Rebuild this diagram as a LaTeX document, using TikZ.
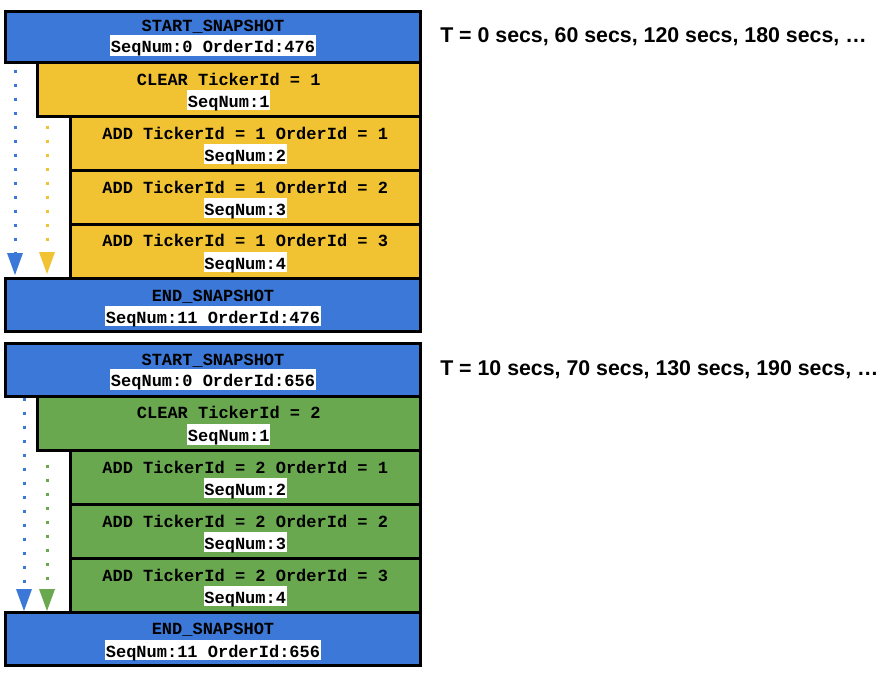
\documentclass[tikz,border=0pt]{standalone}
\usepackage{fontspec}
\usetikzlibrary{arrows.meta,fit}
\newfontfamily\boxfont{Liberation Mono}
\newfontfamily\sidefont{Liberation Sans}
\definecolor{snapblue}{HTML}{3C78D8}
\definecolor{tickyellow}{HTML}{F1C232}
\definecolor{tickgreen}{HTML}{6AA84F}
\tikzset{
  msgbox/.style={draw=black, line width=2.25pt, inner sep=0pt, rectangle},
  headline/.style={font=\boxfont\bfseries\fontsize{12.75pt}{14pt}\selectfont,
    inner xsep=0.4pt, inner ysep=0.2pt, text height=12.75pt, text depth=2pt},
  seqline/.style={headline, fill=white},
  sidetext/.style={font=\sidefont\bfseries\fontsize{16pt}{18pt}\selectfont,
    anchor=base west, inner sep=0pt},
  flow/.style={line width=2.25pt, dash pattern=on 2.25pt off 8.25pt,
    -{Triangle[width=12pt,length=16.5pt,line width=0pt]}}
}
\begin{document}
\begin{tikzpicture}[x=0.75pt,y=-0.75pt]
\useasboundingbox (0,0) rectangle (884,672);

% ---- first snapshot (ticker 1) ----
\coordinate (b1s) at (15,69.5);
\coordinate (b1e) at (15,275);
\coordinate (y1s) at (47,125.5);
\coordinate (y1e) at (47,274);
\draw[flow, snapblue] (b1s) -- (b1e);
\draw[flow, tickyellow] (y1s) -- (y1e);

\node[msgbox, fill=snapblue, fit={(5.5,11) (420.5,62)}] (s1) {};
\node[msgbox, fill=tickyellow, fit={(37,62) (420.5,116)}] (c1) {};
\node[msgbox, fill=tickyellow, fit={(70,116) (420.5,170)}] (a11) {};
\node[msgbox, fill=tickyellow, fit={(70,170) (420.5,224)}] (a12) {};
\node[msgbox, fill=tickyellow, fit={(70,224) (420.5,278)}] (a13) {};
\node[msgbox, fill=snapblue, fit={(5.5,278) (420.5,331)}] (e1) {};

\node[headline] (s1h) at (s1.center |- 0,24) {START\_SNAPSHOT};
\node[seqline]  (s1q) at (s1.center |- 0,45.5) {SeqNum:0 OrderId:476};
\node[headline] (c1h) at (c1.center |- 0,78) {CLEAR TickerId = 1};
\node[seqline]  (c1q) at (c1.center |- 0,100) {SeqNum:1};
\node[headline] (a11h) at (a11.center |- 0,132) {ADD TickerId = 1 OrderId = 1};
\node[seqline]  (a11q) at (a11.center |- 0,154) {SeqNum:2};
\node[headline] (a12h) at (a12.center |- 0,186) {ADD TickerId = 1 OrderId = 2};
\node[seqline]  (a12q) at (a12.center |- 0,208) {SeqNum:3};
\node[headline] (a13h) at (a13.center |- 0,239.5) {ADD TickerId = 1 OrderId = 3};
\node[seqline]  (a13q) at (a13.center |- 0,262) {SeqNum:4};
\node[headline] (e1h) at (e1.center |- 0,294.5) {END\_SNAPSHOT};
\node[seqline]  (e1q) at (e1.center |- 0,316) {SeqNum:11 OrderId:476};

\node[sidetext] (t1) at (440,42.5) {T = 0 secs, 60 secs, 120 secs, 180 secs, …};

% ---- second snapshot (ticker 2) ----
\coordinate (b2s) at (24,397.5);
\coordinate (b2e) at (24,611);
\coordinate (g2s) at (47,464.5);
\coordinate (g2e) at (47,611);
\draw[flow, snapblue] (b2s) -- (b2e);
\draw[flow, tickgreen] (g2s) -- (g2e);

\node[msgbox, fill=snapblue, fit={(5.5,343) (420.5,396)}] (s2) {};
\node[msgbox, fill=tickgreen, fit={(37,396) (420.5,450)}] (c2) {};
\node[msgbox, fill=tickgreen, fit={(70,450) (420.5,504)}] (a21) {};
\node[msgbox, fill=tickgreen, fit={(70,504) (420.5,558)}] (a22) {};
\node[msgbox, fill=tickgreen, fit={(70,558) (420.5,612)}] (a23) {};
\node[msgbox, fill=snapblue, fit={(5.5,612) (420.5,665.5)}] (e2) {};

\node[headline] (s2h) at (s2.center |- 0,358) {START\_SNAPSHOT};
\node[seqline]  (s2q) at (s2.center |- 0,379.5) {SeqNum:0 OrderId:656};
\node[headline] (c2h) at (c2.center |- 0,411.5) {CLEAR TickerId = 2};
\node[seqline]  (c2q) at (c2.center |- 0,434.5) {SeqNum:1};
\node[headline] (a21h) at (a21.center |- 0,466) {ADD TickerId = 2 OrderId = 1};
\node[seqline]  (a21q) at (a21.center |- 0,488) {SeqNum:2};
\node[headline] (a22h) at (a22.center |- 0,520) {ADD TickerId = 2 OrderId = 2};
\node[seqline]  (a22q) at (a22.center |- 0,542) {SeqNum:3};
\node[headline] (a23h) at (a23.center |- 0,574) {ADD TickerId = 2 OrderId = 3};
\node[seqline]  (a23q) at (a23.center |- 0,596) {SeqNum:4};
\node[headline] (e2h) at (e2.center |- 0,627) {END\_SNAPSHOT};
\node[seqline]  (e2q) at (e2.center |- 0,650) {SeqNum:11 OrderId:656};

\node[sidetext] (t2) at (440,375) {T = 10 secs, 70 secs, 130 secs, 190 secs, …};
\end{tikzpicture}
\end{document}
